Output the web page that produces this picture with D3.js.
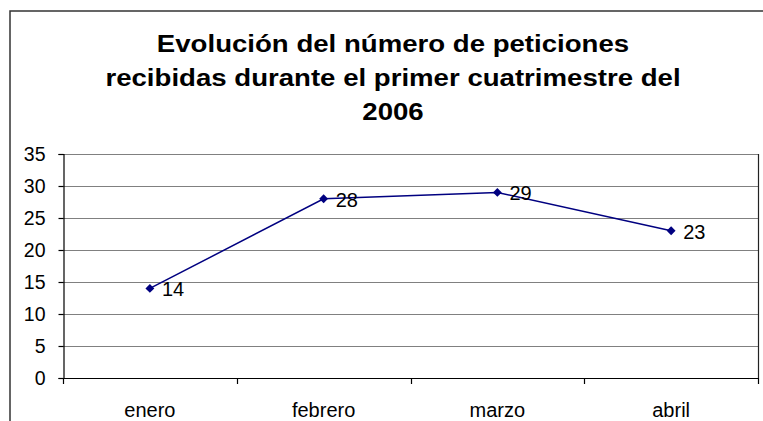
<!DOCTYPE html>
<html>
<head>
<meta charset="utf-8">
<script src="https://cdn.jsdelivr.net/npm/d3@7"></script>
<style>
  html, body { margin: 0; padding: 0; background: #fff; }
  svg { display: block; font-family: "Liberation Sans", Arial, sans-serif; }
</style>
</head>
<body>
<svg id="chart" width="763" height="421"></svg>
<script>
// ── Data ─────────────────────────────────────────────
const titleLines = ['Evolución del número de peticiones',
                    'recibidas durante el primer cuatrimestre del',
                    '2006'];
const months  = ['enero', 'febrero', 'marzo', 'abril'];
const values  = [14, 28, 29, 23];
const yTicks  = [0, 5, 10, 15, 20, 25, 30, 35];

// ── Layout ───────────────────────────────────────────
const W = 763, H = 421;
const plot = { left: 63, right: 758, top: 154, bottom: 378 };
const TITLE_CX = 393;

const svg = d3.select('#chart');

// outer chart frame (runs off the right and bottom edges)
svg.append('rect')
   .attr('x', 10).attr('y', 11)
   .attr('width', W).attr('height', H)
   .attr('fill', 'none')
   .attr('stroke', '#333').attr('stroke-width', 1.5);

// title — the original looks horizontally stretched, so scale x a bit
svg.append('g')
   .attr('transform', `translate(${TITLE_CX},0) scale(1.15,1)`)
   .selectAll('text')
   .data(titleLines)
   .join('text')
   .attr('x', 0)
   .attr('y', (d, i) => 52 + i * 34)
   .attr('text-anchor', 'middle')
   .attr('font-size', '24px')
   .attr('font-weight', 'bold')
   .attr('fill', '#000')
   .text(d => d);

// scales
const x = d3.scaleBand().domain(months).range([plot.left, plot.right]);
const y = d3.scaleLinear().domain([0, 35]).range([plot.bottom, plot.top]);

// grid lines
svg.append('g').selectAll('line')
   .data(yTicks.filter(t => t > 0))
   .join('line')
   .attr('x1', plot.left).attr('x2', plot.right)
   .attr('y1', d => Math.round(y(d)) + 0.5).attr('y2', d => Math.round(y(d)) + 0.5)
   .attr('stroke', '#808080').attr('stroke-width', 1.2);

// right plot border
svg.append('line')
   .attr('x1', plot.right + 0.5).attr('x2', plot.right + 0.5)
   .attr('y1', plot.top).attr('y2', plot.bottom)
   .attr('stroke', '#222').attr('stroke-width', 1.2);

// y axis
const yAxis = svg.append('g')
   .attr('transform', `translate(${plot.left + 0.5},0)`)
   .call(d3.axisLeft(y).tickValues(yTicks).tickSize(5).tickPadding(13));
yAxis.select('.domain').attr('stroke', '#000').attr('stroke-width', 1.2);
yAxis.selectAll('.tick line').attr('stroke', '#000').attr('stroke-width', 1.2);
yAxis.selectAll('.tick text')
     .attr('font-size', '19.5px').attr('font-family', '"Liberation Sans", Arial, sans-serif')
     .attr('fill', '#000');

// x axis baseline + ticks at category boundaries
const boundaries = months.map(m => x(m)).concat([plot.right]);
svg.append('line')
   .attr('x1', plot.left).attr('x2', plot.right)
   .attr('y1', plot.bottom + 0.5).attr('y2', plot.bottom + 0.5)
   .attr('stroke', '#000').attr('stroke-width', 1.2);
svg.append('g').selectAll('line')
   .data(boundaries)
   .join('line')
   .attr('x1', d => Math.round(d) + 0.5).attr('x2', d => Math.round(d) + 0.5)
   .attr('y1', plot.bottom).attr('y2', plot.bottom + 6)
   .attr('stroke', '#000').attr('stroke-width', 1.2);

// x labels
svg.append('g').selectAll('text')
   .data(months)
   .join('text')
   .attr('x', d => x(d) + x.bandwidth() / 2)
   .attr('y', 417)
   .attr('text-anchor', 'middle')
   .attr('font-size', '20px')
   .attr('fill', '#000')
   .text(d => d);

// ── Series ───────────────────────────────────────────
const pts = months.map((m, i) => ({ m, v: values[i] }));

svg.append('path')
   .datum(pts)
   .attr('fill', 'none')
   .attr('stroke', '#000080')
   .attr('stroke-width', 1.5)
   .attr('d', d3.line()
       .x(d => x(d.m) + x.bandwidth() / 2)
       .y(d => y(d.v)));

svg.append('g').selectAll('path')
   .data(pts)
   .join('path')
   .attr('transform', d => `translate(${x(d.m) + x.bandwidth() / 2},${y(d.v)})`)
   .attr('d', d3.symbol(d3.symbolDiamond2, 50))
   .attr('fill', '#000080');

svg.append('g').selectAll('text')
   .data(pts)
   .join('text')
   .attr('x', d => x(d.m) + x.bandwidth() / 2 + 12)
   .attr('y', d => y(d.v) + 8)
   .attr('font-size', '20px')
   .attr('fill', '#000')
   .text(d => d.v);
</script>
</body>
</html>
